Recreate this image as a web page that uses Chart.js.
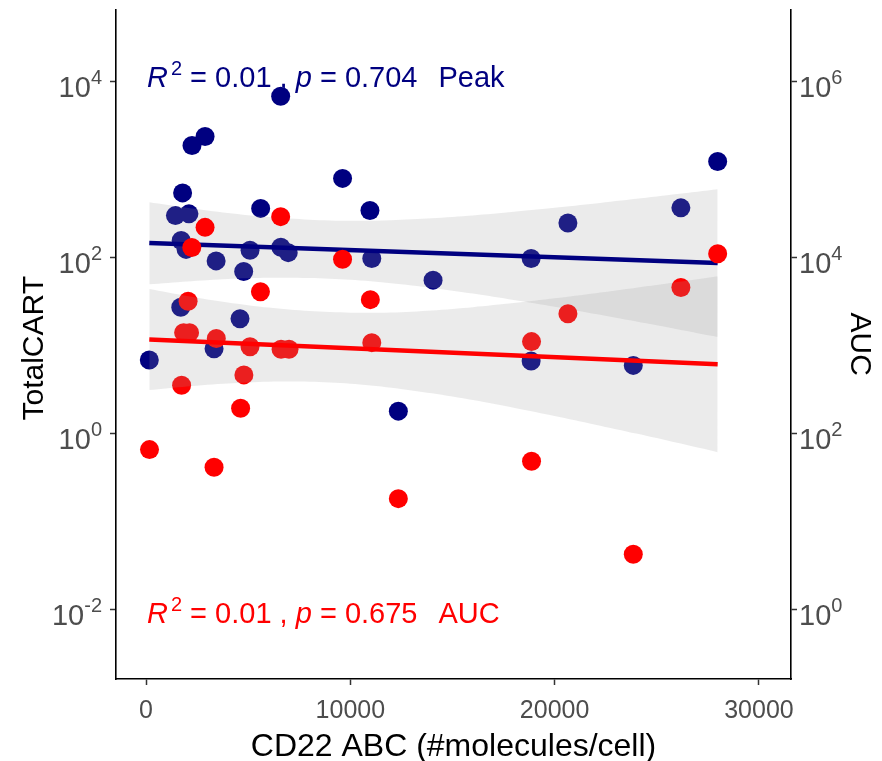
<!DOCTYPE html>
<html><head><meta charset="utf-8">
<script src="https://cdn.jsdelivr.net/npm/chart.js@4.4.0/dist/chart.umd.min.js"></script>
<style>html,body{margin:0;padding:0;background:#fff}canvas{display:block}</style>
</head><body>
<canvas id="c" width="882" height="761"></canvas>
<script>
// ---- data ----
const peakX = [160, 1440, 2100, 1790, 1720, 1960, 1700, 2250, 2890, 3430, 3330, 4600, 4780, 5090, 5610, 6590, 6600, 6960, 9620, 10960, 11050, 12350, 14050, 18850, 18850, 20650, 23850, 26180, 27980];
const peakY = [6.8, 298, 312, 540, 155, 123, 27, 1870, 2370, 91, 9.1, 20, 69, 120, 360, 6800, 130, 113, 790, 340, 97, 1.78, 55, 97, 6.6, 245, 5.9, 365, 1230];
const aucX = [170, 1740, 2060, 1840, 2130, 2240, 2890, 3440, 3330, 4630, 4790, 5090, 5600, 6590, 6610, 7000, 9620, 10980, 11050, 12350, 18870, 18870, 20650, 23850, 26180, 27980];
const aucY = [65, 350, 3160, 1390, 1390, 12900, 21900, 1190, 41, 192, 460, 960, 4060, 29000, 900, 900, 9500, 3300, 1070, 18, 1100, 48, 2280, 4.2, 4530, 11000];

const peakFitX = [160, 27980];
const peakFitY = [145, 86];
const aucFitX = [160, 27980];
const aucFitY = [1160, 608];

const bandX = [160, 2000, 4000, 6000, 8000, 10000, 12000, 14000, 16000, 18000, 20000, 22000, 24000, 26000, 27980];
const peakBandHi = [424, 366, 319, 287, 268, 260, 264, 278, 299, 329, 366, 409, 462, 525, 596];
const peakBandLo = [49.3, 53.2, 56.8, 58.6, 58.3, 55.6, 50.8, 44.9, 38.7, 32.7, 27.4, 22.6, 18.6, 15.2, 12.4];
const aucBandHi = [4365, 3639, 3069, 2679, 2443, 2344, 2360, 2489, 2710, 3013, 3412, 3899, 4498, 5224, 6081];
const aucBandLo = [309, 340, 367, 384, 384, 365, 329, 284, 238, 195, 157, 125, 98.9, 77.6, 60.8];

const xTicks = [0, 10000, 20000, 30000];
const leftTickExp = [-2, 0, 2, 4];
const rightTickExp = [0, 2, 4, 6];
const xRange = [-1470, 31570];
const leftRange = [0.0016, 65800];
const rightRange = [0.16, 6580000];

const peakText = ['R', '2', ' = 0.01 , ', 'p', ' = 0.704', 'Peak'];
const aucText = ['R', '2', ' = 0.01 , ', 'p', ' = 0.675', 'AUC'];
const xTitle = 'CD22 ABC (#molecules/cell)';
const yTitle = 'TotalCART';
const y2Title = 'AUC';

// ---- build ----
const zip = (xs, ys) => xs.map((x, i) => ({x, y: ys[i]}));
const NAVY = '#000080', RED = '#FF0000', BAND = 'rgba(153,153,153,0.2)';
const FONT = '"Liberation Sans", Arial, sans-serif';

const pts = (data, color, axis, order) => ({
  data, yAxisID: axis, order, showLine: false,
  pointRadius: 9.5, pointHoverRadius: 9.5, pointBorderWidth: 0,
  pointBackgroundColor: color, borderColor: color, backgroundColor: color
});
const fitLine = (data, color, axis, order) => ({
  data, yAxisID: axis, order, showLine: true, borderColor: color, borderWidth: 4.5,
  pointRadius: 0, fill: false, tension: 0
});
const bandEdge = (data, axis, order, fill) => ({
  data, yAxisID: axis, order, showLine: true, borderWidth: 0, borderColor: 'rgba(0,0,0,0)',
  pointRadius: 0, fill, backgroundColor: BAND, tension: 0.3
});

const axisCommon = {
  grid: {drawOnChartArea: false, drawTicks: true, tickLength: 6, tickWidth: 1.5, tickColor: '#333333'},
  border: {display: true, color: '#000000', width: 1.6},
  ticks: {display: false}
};

const decorate = {
  id: 'decorate',
  afterDraw(chart) {
    const ctx = chart.ctx;
    const sx = chart.scales.x, sy = chart.scales.y, sy2 = chart.scales.y2;
    ctx.save();
    ctx.fillStyle = '#4D4D4D';
    ctx.textBaseline = 'alphabetic';
    // x tick labels
    ctx.font = '25px ' + FONT;
    ctx.textAlign = 'center';
    xTicks.forEach(v => ctx.fillText(String(v), sx.getPixelForValue(v), 718));
    // left y tick labels
    ctx.textAlign = 'left';
    leftTickExp.forEach(e => {
      const py = sy.getPixelForValue(Math.pow(10, e));
      const exp = String(e);
      ctx.font = '20px ' + FONT; const ew = ctx.measureText(exp).width;
      ctx.font = '29px ' + FONT; const bw = ctx.measureText('10').width;
      const right = sy.right - 14;
      ctx.fillText('10', right - ew - bw, py + 16);
      ctx.font = '20px ' + FONT;
      ctx.fillText(exp, right - ew, py + 3);
    });
    rightTickExp.forEach(e => {
      const py = sy2.getPixelForValue(Math.pow(10, e));
      const exp = String(e);
      const left = sy2.left + 8;
      ctx.font = '29px ' + FONT; const bw = ctx.measureText('10').width;
      ctx.fillText('10', left, py + 16);
      ctx.font = '20px ' + FONT;
      ctx.fillText(exp, left + bw, py + 3);
    });
    // axis titles
    ctx.fillStyle = '#000000';
    ctx.font = '32px ' + FONT;
    ctx.textAlign = 'center';
    ctx.fillText(xTitle, (sx.left + sx.right) / 2, 756);
    const cy = (chart.chartArea.top + chart.chartArea.bottom) / 2;
    ctx.save();
    ctx.translate(43, cy + 4); ctx.rotate(-Math.PI / 2);
    ctx.font = '30px ' + FONT; ctx.fillText(yTitle, 0, 0);
    ctx.restore();
    ctx.save();
    ctx.translate(851, cy); ctx.rotate(Math.PI / 2);
    ctx.font = '30px ' + FONT; ctx.fillText(y2Title, 0, 0);
    ctx.restore();
    // annotations
    const annot = (parts, color, baseY) => {
      ctx.fillStyle = color; ctx.textAlign = 'left';
      let x = chart.chartArea.left + 31;
      ctx.font = 'italic 29px ' + FONT; ctx.fillText(parts[0], x, baseY); x += ctx.measureText(parts[0]).width + 3;
      ctx.font = '20px ' + FONT; ctx.fillText(parts[1], x, baseY - 12); x += ctx.measureText(parts[1]).width;
      ctx.font = '29px ' + FONT; ctx.fillText(parts[2], x, baseY); x += ctx.measureText(parts[2]).width;
      ctx.font = 'italic 29px ' + FONT; ctx.fillText(parts[3], x, baseY); x += ctx.measureText(parts[3]).width;
      ctx.font = '29px ' + FONT; ctx.fillText(parts[4], x, baseY); x += ctx.measureText(parts[4]).width;
      ctx.fillText(parts[5], x + 21, baseY);
    };
    annot(peakText, NAVY, 87);
    annot(aucText, RED, 623);
    ctx.restore();
  }
};

new Chart(document.getElementById('c'), {
  type: 'line',
  data: {
    datasets: [
      pts(zip(peakX, peakY), NAVY, 'y', 9),
      bandEdge(zip(bandX, peakBandHi), 'y', 8, '+1'),
      bandEdge(zip(bandX, peakBandLo), 'y', 7, false),
      fitLine(zip(peakFitX, peakFitY), NAVY, 'y', 6),
      pts(zip(aucX, aucY), RED, 'y2', 5),
      bandEdge(zip(bandX, aucBandHi), 'y2', 4, '+1'),
      bandEdge(zip(bandX, aucBandLo), 'y2', 3, false),
      fitLine(zip(aucFitX, aucFitY), RED, 'y2', 2)
    ]
  },
  options: {
    responsive: false, animation: false, devicePixelRatio: 1,
    layout: {padding: {top: 9, left: 0, right: 0, bottom: 0}},
    plugins: {legend: {display: false}, tooltip: {enabled: false}},
    events: [],
    scales: {
      x: Object.assign({}, axisCommon, {
        type: 'linear', position: 'bottom', min: xRange[0], max: xRange[1],
        afterBuildTicks: s => { s.ticks = xTicks.map(v => ({value: v})); },
        afterFit: s => { s.height = 82; }
      }),
      y: Object.assign({}, axisCommon, {
        type: 'logarithmic', position: 'left', min: leftRange[0], max: leftRange[1],
        afterBuildTicks: s => { s.ticks = leftTickExp.map(e => ({value: Math.pow(10, e)})); },
        afterFit: s => { s.width = 116; }
      }),
      y2: Object.assign({}, axisCommon, {
        type: 'logarithmic', position: 'right', min: rightRange[0], max: rightRange[1],
        afterBuildTicks: s => { s.ticks = rightTickExp.map(e => ({value: Math.pow(10, e)})); },
        afterFit: s => { s.width = 91; }
      })
    }
  },
  plugins: [decorate]
});
</script>
</body></html>
